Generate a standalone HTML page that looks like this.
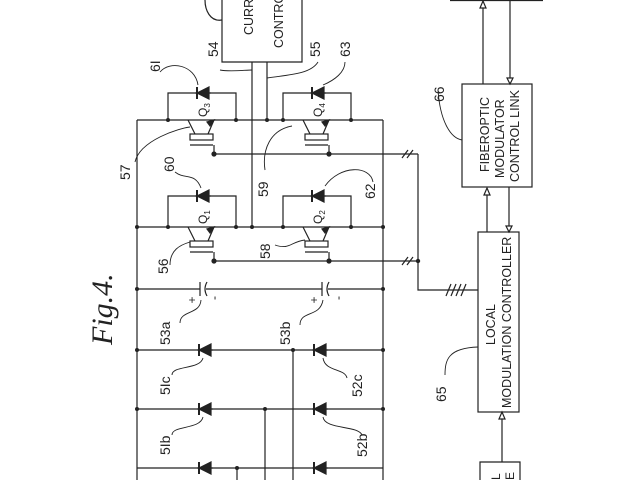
<!DOCTYPE html>
<html><head><meta charset="utf-8"><style>
html,body{margin:0;padding:0;background:#fff;width:640px;height:480px;overflow:hidden}
text{font-family:"Liberation Sans",sans-serif;fill:#222}
</style></head><body>
<svg width="640" height="480" viewBox="0 0 640 480" xmlns="http://www.w3.org/2000/svg" stroke="#222" stroke-width="1.2" fill="none">
<defs>
<g id="tr">
 <path d="M20,0 L27,14"/>
 <path d="M46,0 L40,14"/>
 <path d="M46,0 l-7,2 l3,4 z" fill="#222"/>
 <rect x="22" y="14" width="23" height="6"/>
 <path d="M22,25 H45 M46,25 V34"/>
 <circle cx="46" cy="34" r="2" fill="#222"/>
</g>
<g id="dl">
 <path d="M-8,0 H8"/>
 <path d="M-6,0 L6,-6 L6,6 Z" fill="#222"/>
 <path d="M-6,-6 V6" stroke-width="2"/>
</g>
</defs>

<path d="M222,0 V62 H302 V0"/>
<text transform="translate(253,35) rotate(-90)" font-size="12.5" stroke="none">CURRE</text>
<text transform="translate(283,48) rotate(-90)" font-size="12.5" stroke="none">CONTRO</text>
<path d="M222,20 C210,22 205,10 205,0"/>
<path d="M252,62 V227 M267,62 V120"/>
<path d="M137,120 H383 M137,227 H383 M137,120 V480 M383,120 V480"/>
<path d="M168,120 V93 H236 V120 M168,227 V196 H236 V227 M283,120 V93 H351 V120 M283,227 V196 H351 V227"/>
<use href="#dl" x="203" y="93"/><use href="#dl" x="318" y="93"/>
<use href="#dl" x="203" y="196"/><use href="#dl" x="318" y="196"/>
<use href="#tr" x="168" y="120"/><use href="#tr" x="283" y="120"/>
<use href="#tr" x="168" y="227"/><use href="#tr" x="283" y="227"/>
<g font-size="12" stroke="none">
<text transform="translate(207,117) rotate(-90)">Q<tspan font-size="8" dy="3">3</tspan></text>
<text transform="translate(322,117) rotate(-90)">Q<tspan font-size="8" dy="3">4</tspan></text>
<text transform="translate(207,224) rotate(-90)">Q<tspan font-size="8" dy="3">1</tspan></text>
<text transform="translate(322,224) rotate(-90)">Q<tspan font-size="8" dy="3">2</tspan></text>
</g>
<path d="M214,154 H418 M214,261 H418 M418,154 V290 H478"/>
<path d="M402,158 l6,-8 M407,158 l6,-8 M402,265 l6,-8 M407,265 l6,-8"/>
<path d="M446,296 l5,-12 M451,296 l5,-12 M456,296 l5,-12 M461,296 l5,-12"/>
<g fill="#222" stroke="none">
<circle cx="137" cy="227" r="2"/><circle cx="168" cy="120" r="2"/><circle cx="236" cy="120" r="2"/><circle cx="267" cy="120" r="2"/><circle cx="283" cy="120" r="2"/><circle cx="351" cy="120" r="2"/>
<circle cx="168" cy="227" r="2"/><circle cx="236" cy="227" r="2"/><circle cx="252" cy="227" r="2"/><circle cx="283" cy="227" r="2"/><circle cx="351" cy="227" r="2"/><circle cx="383" cy="227" r="2"/>
<circle cx="418" cy="261" r="2.2"/>
<circle cx="137" cy="289" r="2"/><circle cx="383" cy="289" r="2"/>
<circle cx="137" cy="350" r="2"/><circle cx="293" cy="350" r="2"/><circle cx="383" cy="350" r="2"/>
<circle cx="137" cy="409" r="2"/><circle cx="265" cy="409" r="2"/><circle cx="383" cy="409" r="2"/>
<circle cx="237" cy="468" r="2"/>
</g>
<path d="M137,289 H200 M206,289 H322 M328,289 H383"/>
<path d="M200,282 V296 M207,282 Q203,289 207,296 M322,282 V296 M329,282 Q325,289 329,296"/>
<text transform="translate(196,300) rotate(-90)" font-size="12" stroke="none" text-anchor="middle">+</text>
<text transform="translate(218,298) rotate(-90)" font-size="12" stroke="none" text-anchor="middle">-</text>
<text transform="translate(318,300) rotate(-90)" font-size="12" stroke="none" text-anchor="middle">+</text>
<text transform="translate(342,298) rotate(-90)" font-size="12" stroke="none" text-anchor="middle">-</text>
<path d="M137,350 H383 M137,409 H383 M137,468 H383 M293,350 V480 M265,409 V480 M237,468 V480"/>
<use href="#dl" x="205" y="350"/><use href="#dl" x="320" y="350"/>
<use href="#dl" x="205" y="409"/><use href="#dl" x="320" y="409"/>
<use href="#dl" x="205" y="468"/><use href="#dl" x="320" y="468"/>
<text transform="translate(112,345) rotate(-90)" font-size="30" font-style="italic" stroke="none" style="font-family:'Liberation Serif',serif">Fig.4.</text>
<g font-size="14" stroke="none">
<text transform="translate(160,72) rotate(-90)">6I</text>
<text transform="translate(218,57) rotate(-90)">54</text>
<text transform="translate(320,57) rotate(-90)">55</text>
<text transform="translate(350,57) rotate(-90)">63</text>
<text transform="translate(130,180) rotate(-90)">57</text>
<text transform="translate(174,172) rotate(-90)">60</text>
<text transform="translate(268,197) rotate(-90)">59</text>
<text transform="translate(375,199) rotate(-90)">62</text>
<text transform="translate(168,274) rotate(-90)">56</text>
<text transform="translate(270,259) rotate(-90)">58</text>
<text transform="translate(170,345) rotate(-90)">53a</text>
<text transform="translate(290,345) rotate(-90)">53b</text>
<text transform="translate(170,395) rotate(-90)">5Ic</text>
<text transform="translate(362,397) rotate(-90)">52c</text>
<text transform="translate(170,455) rotate(-90)">5Ib</text>
<text transform="translate(367,457) rotate(-90)">52b</text>
<text transform="translate(444,102) rotate(-90)">66</text>
<text transform="translate(446,402) rotate(-90)">65</text>
</g>
<path stroke-width="0.9" d="M160,72 C170,60 195,65 198,85 M220,70 C230,72 245,70 252,70 M318,62 C310,75 285,75 267,78 M345,62 C345,72 335,80 323,85 M135,162 C140,140 180,128 190,127 M175,172 C185,180 195,172 201,188 M265,170 C262,150 270,130 292,126 M373,182 C370,165 340,165 325,186 M170,265 C170,250 180,245 190,242 M275,245 C290,250 290,242 305,240 M180,323 C180,310 200,315 201,300 M300,325 C300,310 320,318 323,300 M172,375 C172,365 200,370 203,358 M347,378 C345,368 325,372 323,358 M172,435 C172,425 200,430 203,417 M362,435 C358,425 325,430 323,417 M438,90 C440,120 450,138 462,140 M445,375 C445,360 448,348 478,347"/>
<rect x="462" y="84" width="70" height="103"/>
<text transform="translate(489,172) rotate(-90)" font-size="12.5" stroke="none">FIBEROPTIC</text>
<text transform="translate(504,178) rotate(-90)" font-size="12.5" stroke="none">MODULATOR</text>
<text transform="translate(519,182) rotate(-90)" font-size="12.5" stroke="none">CONTROL LINK</text>
<rect x="478" y="232" width="41" height="180"/>
<text transform="translate(495,345) rotate(-90)" font-size="12.5" stroke="none">LOCAL</text>
<text transform="translate(511,408) rotate(-90)" font-size="12.5" stroke="none">MODULATION CONTROLLER</text>
<path d="M450,0.5 H543 M480,480 V462 H520 V480"/>
<text transform="translate(500,480) rotate(-90)" font-size="12" stroke="none">L</text>
<text transform="translate(514,480) rotate(-90)" font-size="12" stroke="none">E</text>
<path d="M483,84 V3 M510,0 V80 M487,232 V191 M509,187 V228 M502,462 V416"/>
<path d="M480,8 L483,1 L486,8 Z M507,78 L510,84 L513,78 Z M484,195 L487,188 L490,195 Z M506,226 L509,232 L512,226 Z M499,419 L502,412 L505,419 Z" fill="#fff"/>
</svg>
</body></html>
